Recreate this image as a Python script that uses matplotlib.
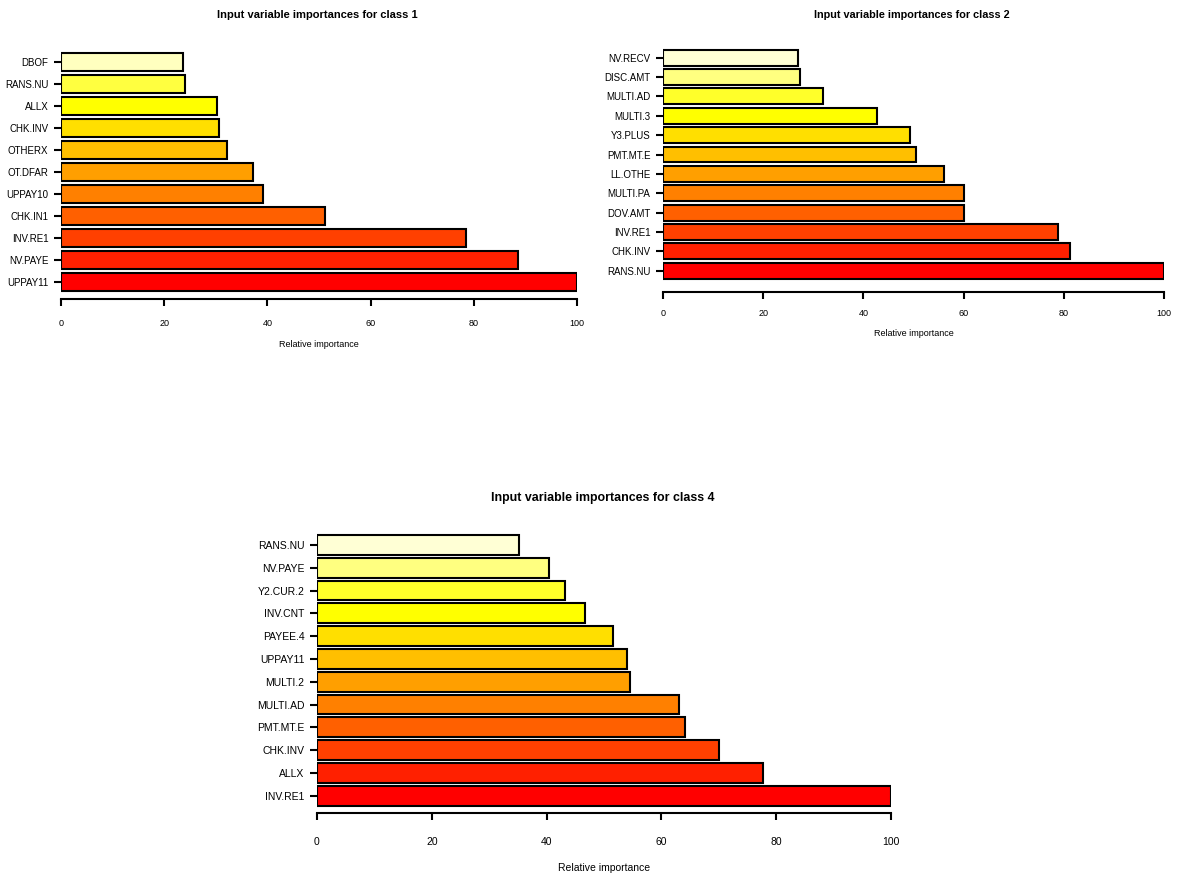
import colorsys
import matplotlib
matplotlib.use("Agg")
import matplotlib.pyplot as plt

plt.rcParams['font.family'] = ['Liberation Sans', 'DejaVu Sans']

# 数据（从下到上）
labels_c1 = ['UPPAY11', 'NV.PAYE', 'INV.RE1', 'CHK.IN1', 'UPPAY10', 'OT.DFAR',
             'OTHERX', 'CHK.INV', 'ALLX', 'RANS.NU', 'DBOF']
values_c1 = [100, 88.6, 78.5, 51.2, 39.1, 37.2, 32.2, 30.6, 30.2, 24.0, 23.6]

labels_c2 = ['RANS.NU', 'CHK.INV', 'INV.RE1', 'DOV.AMT', 'MULTI.PA', 'LL.OTHE',
             'PMT.MT.E', 'Y3.PLUS', 'MULTI.3', 'MULTI.AD', 'DISC.AMT', 'NV.RECV']
values_c2 = [100, 81.2, 78.8, 60.1, 60.1, 56.1, 50.5, 49.3, 42.7, 31.9, 27.3, 26.9]

labels_c4 = ['INV.RE1', 'ALLX', 'CHK.INV', 'PMT.MT.E', 'MULTI.AD', 'MULTI.2',
             'UPPAY11', 'PAYEE.4', 'INV.CNT', 'Y2.CUR.2', 'NV.PAYE', 'RANS.NU']
values_c4 = [100, 77.7, 70.0, 64.1, 63.0, 54.5, 54.0, 51.6, 46.7, 43.2, 40.4, 35.2]

xticks = [0, 20, 40, 60, 80, 100]

W, H = 1180, 873


def heat_colors(n):
    # 仿 R 的 heat.colors(n)
    j = n // 4
    i = n - j
    cols = []
    for k in range(i):
        h = (1 / 6) * k / (i - 1)
        cols.append(colorsys.hsv_to_rgb(h, 1, 1))
    for k in range(j):
        s = (1 - 1 / (2 * j)) - ((1 - 1 / j) * k / (j - 1) if j > 1 else 0)
        cols.append(colorsys.hsv_to_rgb(1 / 6, s, 1))
    return cols


def draw_panel(fig, labels, values, title, x0, x100, yc_bot, yc_top, axis_y,
               title_x, title_y, tick_y, xlab_y, fs, yfs, tfs, bh):
    n = len(values)
    step = (yc_bot - yc_top) / (n - 1)
    top_px = yc_top - 0.6 * step
    bot_px = yc_bot + 0.6 * step
    ax = fig.add_axes([x0 / W, 1 - bot_px / H, (x100 - x0) / W, (bot_px - top_px) / H])
    ax.set_xlim(0, 100)
    ax.set_ylim(-0.6, n - 1 + 0.6)
    ax.barh(range(n), values, height=bh, color=heat_colors(n),
            edgecolor='black', linewidth=1.5)
    for s in ['top', 'right', 'left']:
        ax.spines[s].set_visible(False)
    ax.spines['bottom'].set_bounds(0, 100)
    ax.spines['bottom'].set_linewidth(1.5)
    ax.spines['bottom'].set_position(('outward', (axis_y - bot_px) * 0.72))
    ax.set_yticks(range(n))
    ax.set_yticklabels(labels, fontsize=yfs)
    ax.set_xticks(xticks)
    ax.set_xticklabels([str(t) for t in xticks], fontsize=fs)
    ax.tick_params(axis='y', length=5, width=1.5, pad=4, color='black')
    ax.tick_params(axis='x', length=5, width=1.5, pad=(tick_y - axis_y - 8) * 0.72)
    xc = (x0 + x100) / 2 / W
    fig.text(title_x / W, 1 - title_y / H, title, ha='center', va='center',
             fontsize=tfs, fontweight='bold')
    fig.text(xc, 1 - xlab_y / H, 'Relative importance', ha='center',
             va='center', fontsize=fs)
    return ax


fig = plt.figure(figsize=(W / 100, H / 100), dpi=100)

draw_panel(fig, labels_c1, values_c1, 'Input variable importances for class 1',
           61, 577, 282, 61.7, 299, 317, 15, 320, 345, 6.5, 7, 8, 0.83)
draw_panel(fig, labels_c2, values_c2, 'Input variable importances for class 2',
           663, 1164, 270.7, 57.7, 292, 912, 15.5, 310, 333, 6.5, 7, 7.8, 0.82)
draw_panel(fig, labels_c4, values_c4, 'Input variable importances for class 4',
           317, 891, 795.7, 545, 813, 603, 498, 838, 868, 7.5, 7.5, 8.9, 0.87)

fig.savefig('out.png', dpi=100)
